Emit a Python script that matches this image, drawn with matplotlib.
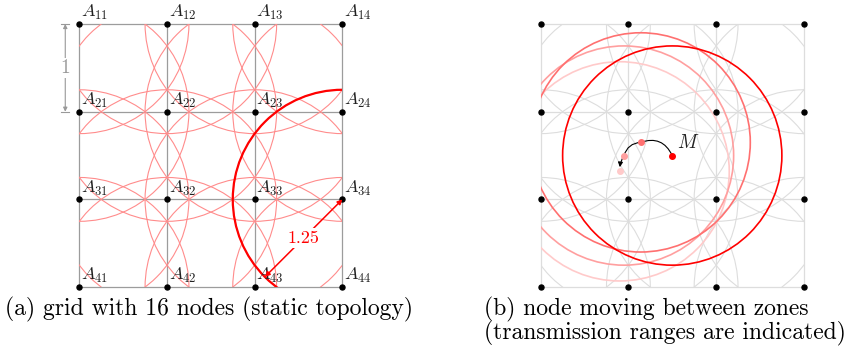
import numpy as np
import matplotlib.pyplot as plt
from matplotlib.patches import Circle, Rectangle, FancyArrowPatch

plt.rcParams['mathtext.fontset'] = 'cm'

# grid of 4x4 nodes, spacing 1, row 1 at the top
rows = [1, 2, 3, 4]
cols = [1, 2, 3, 4]
radius = 1.25
side = 3

# highlighted node in (a)
hl_node = (3, 4)  # A34

# moving node in (b): current position M first, then older positions
track_x = [1.50, 1.14, 0.95, 0.90]
track_y = [1.50, 1.65, 1.50, 1.32]
track_colors = ['#ff0000', '#ff7070', '#ff9f9f', '#ffcaca']
track_rad = [0.45, 0.35, 0.15]


def node_xy(i, j):
    return j - 1, side - (i - 1)


W, H = 861, 354
unit = 87.7
fig = plt.figure(figsize=(W / 100, H / 100), dpi=100)


def make_ax(x0_px):
    # x0_px: pixel position of the left grid line, top grid line at 24 px
    xl, yl = (-0.5, 3.5), (-0.3, 3.25)
    left = x0_px + xl[0] * unit
    bottom = H - (24 + (side - yl[0]) * unit)
    ax = fig.add_axes([left / W, bottom / H, (xl[1] - xl[0]) * unit / W,
                       (yl[1] - yl[0]) * unit / H])
    ax.set_xlim(*xl)
    ax.set_ylim(*yl)
    ax.set_aspect('equal')
    ax.axis('off')
    return ax


def draw_grid(ax, line_col, circ_col, circ_lw):
    box = Rectangle((0, 0), side, side, transform=ax.transData)
    for k in range(len(rows)):
        ax.plot([0, side], [k, k], color=line_col, lw=0.9, zorder=1)
        ax.plot([k, k], [0, side], color=line_col, lw=0.9, zorder=1)
    for i in rows:
        for j in cols:
            x, y = node_xy(i, j)
            c = Circle((x, y), radius, fill=False, ec=circ_col, lw=circ_lw, zorder=2)
            ax.add_patch(c)
            c.set_clip_path(box)
    return box


# ---------- (a) static grid ----------
ax1 = make_ax(79.3)
box1 = draw_grid(ax1, '#9c9c9c', '#ff8c8c', 0.8)

hx, hy = node_xy(*hl_node)
hc = Circle((hx, hy), radius, fill=False, ec='#ff0000', lw=1.6, zorder=3)
ax1.add_patch(hc)
hc.set_clip_path(box1)

for i in rows:
    for j in cols:
        x, y = node_xy(i, j)
        ax1.plot(x, y, 'o', color='black', ms=3.6, zorder=5)
        ax1.text(x + 0.02, y + 0.02, r'$A_{%d%d}$' % (i, j), fontsize=13,
                 color='#222222', ha='left', va='bottom', zorder=6)

# radius arrow
ang = np.deg2rad(225)
ex, ey = hx + radius * np.cos(ang), hy + radius * np.sin(ang)
ax1.add_patch(FancyArrowPatch((hx, hy), (ex, ey), arrowstyle='<|-|>', color='#ff0000',
                              lw=1.1, mutation_scale=7, shrinkA=0, shrinkB=0, zorder=6))
ax1.text((hx + ex) / 2, (hy + ey) / 2, '1.25', family='cmr10', fontsize=13,
         color='#ff0000', ha='center', va='center', zorder=7,
         bbox=dict(fc='white', ec='none', pad=1.5))

# unit dimension on the left
dx = -0.16
ax1.add_patch(FancyArrowPatch((dx, side), (dx, side - 1), arrowstyle='<|-|>', color='#999999',
                              lw=0.8, mutation_scale=6, shrinkA=0, shrinkB=0, zorder=4))
for yy in [side, side - 1]:
    ax1.plot([dx - 0.045, dx + 0.045], [yy, yy], color='#999999', lw=0.8)
ax1.text(dx, side - 0.5, '1', family='cmr10', fontsize=14, color='#999999',
         ha='center', va='center', zorder=6, bbox=dict(fc='white', ec='none', pad=1))

# ---------- (b) moving node ----------
ax2 = make_ax(540.7)
box2 = draw_grid(ax2, '#dddddd', '#dddddd', 0.8)

for i in rows:
    for j in cols:
        x, y = node_xy(i, j)
        ax2.plot(x, y, 'o', color='black', ms=3.6, zorder=5)

for k in range(len(track_x) - 1, -1, -1):
    c = Circle((track_x[k], track_y[k]), radius, fill=False, ec=track_colors[k],
               lw=1.2, zorder=3 + (len(track_x) - k) * 0.01)
    ax2.add_patch(c)
    c.set_clip_path(box2)

for k in range(len(track_x) - 1):
    last = k == len(track_x) - 2
    ax2.add_patch(FancyArrowPatch((track_x[k], track_y[k]), (track_x[k + 1], track_y[k + 1]),
                                  connectionstyle='arc3,rad=%.2f' % track_rad[k],
                                  arrowstyle='-|>' if last else '-', color='black', lw=0.8,
                                  mutation_scale=7, shrinkA=0, shrinkB=3 if last else 0,
                                  zorder=6))

for k in range(len(track_x)):
    ax2.plot(track_x[k], track_y[k], 'o', color=track_colors[k], ms=4, zorder=7)
ax2.text(track_x[0] + 0.05, track_y[0] + 0.04, r'$M$', fontsize=14, color='#222222',
         ha='left', va='bottom', zorder=8)

# captions
fig.text(5 / W, 1 - 309 / H, '(a) grid with 16 nodes (static topology)', family='cmr10',
         fontsize=17, ha='left', va='center')
fig.text(484 / W, 1 - 309 / H, '(b) node moving between zones', family='cmr10',
         fontsize=17, ha='left', va='center')
fig.text(484 / W, 1 - 333 / H, '(transmission ranges are indicated)', family='cmr10',
         fontsize=17, ha='left', va='center')

fig.savefig('out.png', dpi=100)
